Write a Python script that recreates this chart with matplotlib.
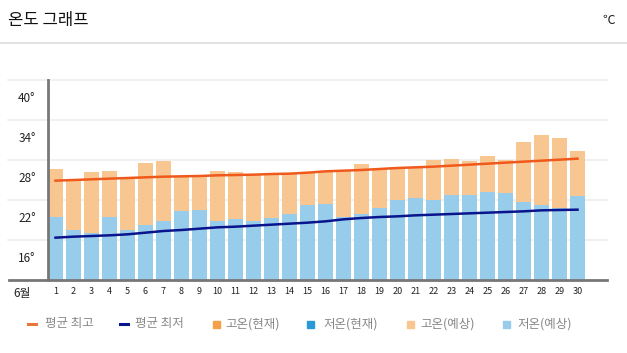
import numpy as np
import matplotlib
matplotlib.use('Agg')
import matplotlib.pyplot as plt
from matplotlib.lines import Line2D
from matplotlib.patches import Rectangle

plt.rcParams['font.family'] = ['Noto Sans CJK KR', 'DejaVu Sans']

# data
days = list(range(1, 31))
high_fcst = [29.15, 27.4, 28.7, 28.85, 27.6, 30.1, 30.4, 28.0, 28.1, 28.85,
             28.65, 28.25, 28.35, 28.35, 28.65, 28.85, 28.85, 29.9, 29.1, 29.5,
             29.4, 30.5, 30.65, 30.35, 31.1, 30.5, 33.2, 34.25, 33.8, 31.85]
low_fcst = [21.9, 20.0, 19.55, 21.9, 20.0, 20.75, 21.35, 22.9, 23.0, 21.35,
            21.6, 21.35, 21.85, 22.4, 23.75, 23.95, 21.9, 22.4, 23.35, 24.5,
            24.85, 24.5, 25.25, 25.25, 25.7, 25.55, 24.2, 23.7, 23.25, 25.1]
avg_high = [27.4, 27.5, 27.6, 27.7, 27.8, 27.9, 28.0, 28.05, 28.1, 28.2,
            28.25, 28.3, 28.4, 28.45, 28.6, 28.8, 28.9, 29.0, 29.15, 29.3,
            29.4, 29.5, 29.65, 29.8, 29.95, 30.1, 30.25, 30.4, 30.55, 30.7]
avg_low = [18.85, 19.0, 19.1, 19.2, 19.35, 19.6, 19.85, 20.0, 20.2, 20.4,
           20.5, 20.65, 20.8, 20.95, 21.1, 21.3, 21.6, 21.8, 21.95, 22.05,
           22.2, 22.3, 22.4, 22.5, 22.6, 22.7, 22.8, 22.95, 23.0, 23.05]
y_ticks = [16, 22, 28, 34, 40]
legend_labels = ['평균 최고', '평균 최저', '고온(현재)', '저온(현재)', '고온(예상)', '저온(예상)']

W, H = 627, 353
fig = plt.figure(figsize=(W / 100, H / 100), dpi=100)

def fx(px):
    return px / W

def fy(py):
    return 1 - py / H

# header
fig.text(fx(8), fy(21), '온도 그래프', fontsize=12, color='#111', va='center', ha='left')
fig.text(fx(615), fy(20), '℃', fontsize=9, color='#222', va='center', ha='right')
fig.add_artist(Line2D([0, 1], [fy(43), fy(43)], color='#dddddd', lw=1.2))

ax = fig.add_axes([fx(48), fy(280), fx(607) - fx(48), fy(80) - fy(280)])
base = 12.5
ax.set_ylim(base, 42.5)
ax.set_xlim(1 - 7.5 / 18, 1 - 7.5 / 18 + 559 / 18)

x = np.array(days)
low = np.array(low_fcst)
high = np.array(high_fcst)
ax.bar(x, low - base, bottom=base, width=0.78, color='#97cdea', zorder=2)
ax.bar(x, high - low, bottom=low, width=0.78, color='#f8c690', zorder=2)
ax.plot(x, avg_high, color='#f0591c', lw=1.8, zorder=3)
ax.plot(x, avg_low, color='#0a148c', lw=1.8, zorder=3)

# grid lines sit 2.5 degrees above each label
for t in y_ticks:
    ax.axhline(t + 2.5, xmin=-40 / 559, xmax=1, color='#eeeeee', lw=1.2, zorder=1, clip_on=False)
ax.axhline(base, xmin=-39 / 559, xmax=1, color='#777777', lw=2, zorder=4, clip_on=False)

for s in ['top', 'right', 'bottom']:
    ax.spines[s].set_visible(False)
ax.spines['left'].set_color('#777777')
ax.spines['left'].set_linewidth(2)

ax.set_yticks(y_ticks)
ax.set_yticklabels([str(t) + '°' for t in y_ticks], fontsize=8.5, color='#222')
ax.tick_params(axis='y', length=0, pad=9)
ax.set_xticks(days)
ax.set_xticklabels([str(d) for d in days], fontsize=6.5, color='#222')
ax.tick_params(axis='x', length=0, pad=5)
fig.text(fx(22), fy(293), '6월', fontsize=8.5, color='#222', va='center', ha='center')

# legend
leg_colors = ['#e8773f', '#0a148c', '#f4a04a', '#2a9ad6', '#f8c690', '#97cdea']
mark_x = [28, 120, 213, 307, 407, 503]
text_x = [45, 135, 225, 323, 420, 517]
ly = 324
for i in range(6):
    if i < 2:
        fig.add_artist(Line2D([fx(mark_x[i]), fx(mark_x[i] + 8)], [fy(ly), fy(ly)],
                              color=leg_colors[i], lw=2.2))
    else:
        fig.add_artist(Rectangle((fx(mark_x[i]), fy(ly + 3.5)), fx(7), 7 / H,
                                 color=leg_colors[i], transform=fig.transFigure))
    fig.text(fx(text_x[i]), fy(ly), legend_labels[i], fontsize=9, color='#888888',
             va='center', ha='left')

fig.savefig('out.png', dpi=100)
